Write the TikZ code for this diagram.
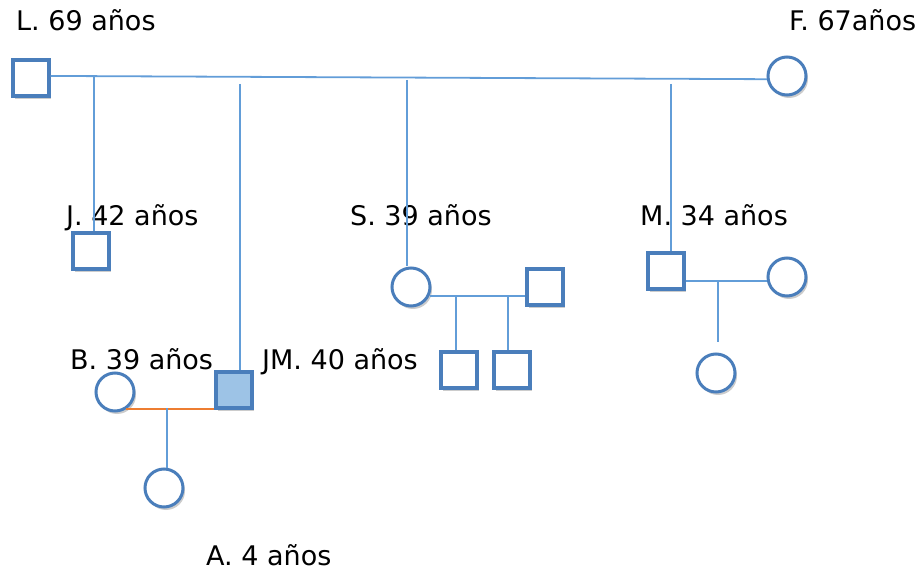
\documentclass[tikz,border=0pt]{standalone}
\usepackage{fontspec}
\setmainfont{DejaVu Sans}
\usepackage{xcolor}
\definecolor{EdgeBlue}{RGB}{74,126,187}
\definecolor{LineBlue}{RGB}{98,157,216}
\definecolor{FillBlue}{RGB}{157,195,230}
\definecolor{LineOrange}{RGB}{237,125,49}
\usetikzlibrary{shadows}

\begin{document}
\begin{tikzpicture}[x=1pt, y=-1pt,
    male/.style={rectangle, draw=EdgeBlue, line width=3.2pt, fill=white,
                 minimum size=36pt, inner sep=0pt,
                 drop shadow={opacity=0.4, shadow xshift=2pt, shadow yshift=-3pt}},
    female/.style={circle, draw=EdgeBlue, line width=3pt, fill=white,
                   minimum size=38pt, inner sep=0pt,
                   drop shadow={opacity=0.4, shadow xshift=2pt, shadow yshift=-3pt}},
    tie/.style={draw=LineBlue, line width=1.8pt},
    age/.style={anchor=base west, inner sep=0pt, font=\fontsize{27}{32}\selectfont}
]
    \useasboundingbox (0,0) rectangle (922,572);

    \node[male] (l) at (31,78) {};
    \node[female] (f) at (787,76) {};
    \node[male] (j) at (91,251) {};
    \node[female] (s) at (411,287) {};
    \node[male] (ss) at (545,287) {};
    \node[male] (sk1) at (459,370) {};
    \node[male] (sk2) at (512,370) {};
    \node[male] (m) at (666,271) {};
    \node[female] (ms) at (787,277) {};
    \node[female] (mk) at (716,373) {};
    \node[female] (b) at (115,392) {};
    \node[male, fill=FillBlue] (jm) at (234,390) {};
    \node[female] (a) at (164,488) {};

    \node[age] (ltxt) at (16,31) {L. 69 años};
    \node[age] (ftxt) at (789,31) {F. 67años};
    \node[age] (jtxt) at (66,226) {J. 42 años};
    \node[age] (stxt) at (350,226) {S. 39 años};
    \node[age] (mtxt) at (640,226) {M. 34 años};
    \node[age] (btxt) at (70,370) {B. 39 años};
    \node[age] (jmtxt) at (262,370) {JM. 40 años};
    \node[age] (atxt) at (206,565) {A. 4 años};

    \coordinate (jtop) at (94,76);
    \coordinate (jmtop) at (240,84);
    \coordinate (stop) at (407,80);
    \coordinate (mtop) at (671,84);
    \coordinate (sc1) at (456,296);
    \coordinate (sc2) at (508,296);
    \coordinate (mc) at (718,281);
    \coordinate (mend) at (718,342);
    \coordinate (bc) at (167,408);

    \draw[tie] (l.6) -- (f.189);
    \draw[tie] (jtop) -- (jtop |- j.north);
    \draw[tie] (jmtop) -- (jmtop |- jm.north);
    \draw[tie] (stop) -- (stop |- s.north);
    \draw[tie] (mtop) -- (mtop |- m.north);
    \draw[tie] (s.-25) -- (s.-25 -| ss.west);
    \draw[tie] (sc1) -- (sc1 |- sk1.north);
    \draw[tie] (sc2) -- (sc2 |- sk2.north);
    \draw[tie] (mc -| m.east) -- (mc -| ms.west);
    \draw[tie] (mc) -- (mend);
    \draw[draw=LineOrange, line width=1.8pt] (b.-56) -- (b.-56 -| jm.west);
    \draw[tie] (bc) -- (bc |- a.north);
\end{tikzpicture}
\end{document}
